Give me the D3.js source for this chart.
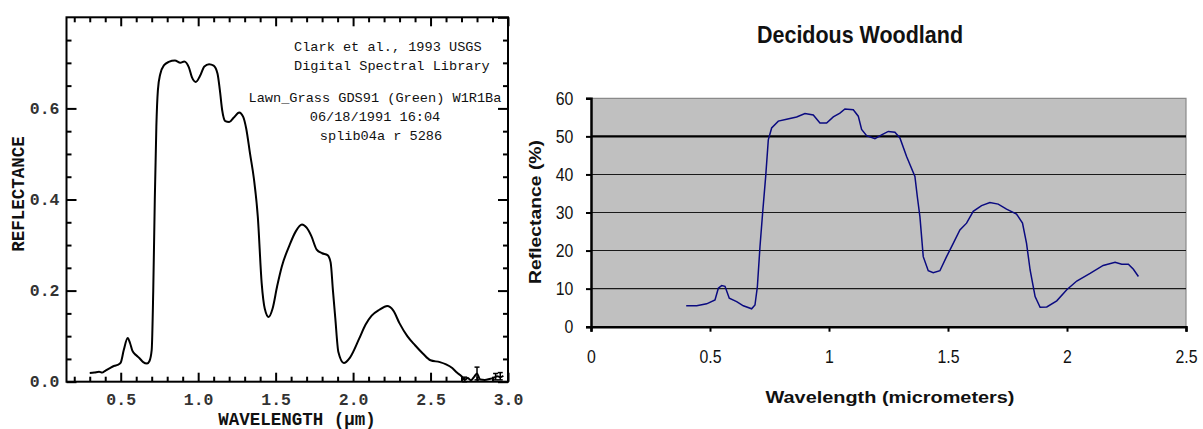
<!DOCTYPE html>
<html>
<head>
<meta charset="utf-8">
<script src="https://cdn.jsdelivr.net/npm/d3@7"></script>
<style>
  body { margin: 0; background: #fff; }
  svg { display: block; }
</style>
</head>
<body>
<div class="charts"></div>
<script>
// Lawn grass spectrum (left, USGS library plot)
let grassWl = [0.30, 0.33, 0.36, 0.38, 0.40, 0.43, 0.46, 0.48, 0.50, 0.52, 0.545, 0.56, 0.575, 0.60, 0.62, 0.645, 0.67, 0.685,
  0.70, 0.71, 0.72, 0.73, 0.74, 0.755, 0.78, 0.81, 0.85, 0.885, 0.91, 0.94, 0.96, 0.985, 1.01, 1.04, 1.07, 1.10, 1.125, 1.14,
  1.155, 1.175, 1.20, 1.23, 1.265, 1.29, 1.31, 1.335, 1.36, 1.385, 1.41, 1.43, 1.455, 1.48, 1.51, 1.54, 1.59, 1.63, 1.67,
  1.70, 1.73, 1.765, 1.80, 1.835, 1.855, 1.87, 1.885, 1.905, 1.94, 1.98, 2.04, 2.08, 2.12, 2.17, 2.22, 2.26, 2.30, 2.35,
  2.40, 2.45, 2.50, 2.56, 2.60, 2.64, 2.67, 2.70, 2.72, 2.74, 2.76, 2.78, 2.80, 2.82, 2.85, 2.88, 2.91, 2.93, 2.95, 2.97]
let grassRefl = [0.019, 0.020, 0.022, 0.020, 0.024, 0.030, 0.035, 0.037, 0.042, 0.070, 0.096, 0.085, 0.068, 0.058, 0.052, 0.043, 0.040, 0.045,
  0.070, 0.200, 0.400, 0.560, 0.640, 0.675, 0.695, 0.702, 0.705, 0.700, 0.703, 0.690, 0.668, 0.658, 0.670, 0.692, 0.697, 0.694, 0.676, 0.640,
  0.596, 0.572, 0.570, 0.580, 0.591, 0.582, 0.556, 0.500, 0.445, 0.362, 0.216, 0.160, 0.142, 0.160, 0.210, 0.253, 0.300, 0.330, 0.345,
  0.338, 0.320, 0.290, 0.282, 0.278, 0.262, 0.200, 0.140, 0.065, 0.041, 0.053, 0.095, 0.125, 0.145, 0.158, 0.166, 0.156, 0.128, 0.100,
  0.080, 0.062, 0.047, 0.043, 0.038, 0.030, 0.020, 0.012, 0.004, 0.008, 0.003, 0.010, 0.018, 0.005, 0.004, 0.006, 0.009, 0.012, 0.010, 0.013]
let grassErrWl = [2.72, 2.80, 2.92, 2.95]
let grassErrLo = [0.000, 0.004, 0.004, 0.004]
let grassErrHi = [0.010, 0.032, 0.018, 0.020]
let grassNotes = ["Clark et al., 1993 USGS", "Digital Spectral Library", "Lawn_Grass GDS91 (Green) W1R1Ba", "06/18/1991 16:04", "splib04a r 5286"]

// Deciduous woodland spectrum (right, spreadsheet plot)
let woodWl = [0.40, 0.444, 0.486, 0.521, 0.535, 0.549, 0.563, 0.581, 0.612, 0.64, 0.675, 0.689, 0.699, 0.71, 0.721, 0.734, 0.745,
  0.759, 0.787, 0.822, 0.864, 0.899, 0.934, 0.962, 0.99, 1.018, 1.046, 1.067, 1.102, 1.123, 1.137, 1.158, 1.193, 1.221, 1.249,
  1.277, 1.298, 1.326, 1.361, 1.371, 1.382, 1.396, 1.417, 1.438, 1.466, 1.494, 1.522, 1.55, 1.578, 1.606, 1.641, 1.676, 1.711,
  1.746, 1.788, 1.813, 1.83, 1.845, 1.866, 1.887, 1.915, 1.957, 1.999, 2.041, 2.097, 2.152, 2.202, 2.23, 2.258, 2.279, 2.30]
let woodRefl = [5.5, 5.5, 6.0, 7.0, 10.1, 10.8, 10.6, 7.5, 6.6, 5.5, 4.7, 5.7, 10.5, 21.0, 29.8, 39.5, 49.1,
  52.2, 54.0, 54.5, 55.1, 56.0, 55.6, 53.5, 53.5, 55.1, 56.1, 57.2, 57.0, 55.3, 51.8, 50.2, 49.4, 50.4, 51.3,
  51.1, 49.6, 44.7, 39.5, 34.2, 28.9, 18.4, 14.7, 14.2, 14.7, 18.4, 21.9, 25.4, 27.2, 30.3, 31.8, 32.6, 32.2,
  30.9, 29.6, 27.2, 21.9, 14.9, 7.9, 5.1, 5.2, 6.8, 9.7, 12.0, 14.0, 16.1, 16.9, 16.4, 16.4, 15.1, 13.2]
let woodXTicks = [0, 0.5, 1, 1.5, 2, 2.5]
let woodYTicks = [0, 10, 20, 30, 40, 50, 60]

let svg = d3.select('.charts')
  .append('svg')
  .attr('width', 1203)
  .attr('height', 429);

// ---------- left chart ----------
let mono = "'Liberation Mono', 'Courier New', monospace";
let x1 = d3.scaleLinear().domain([0.15, 3.0]).range([66.5, 508]);
let y1 = d3.scaleLinear().domain([0, 0.8]).range([381.7, 17.3]);

let left = svg.append('g');

let xMinor = d3.range(2, 31).map(d => d / 10).filter(d => Math.round(d * 10) % 5 != 0);
let xMajor = [0.5, 1.0, 1.5, 2.0, 2.5, 3.0];
let yMinor = d3.range(1, 16).map(d => d / 20).filter(d => Math.round(d * 20) % 4 != 0);
let yMajor = [0, 0.2, 0.4, 0.6, 0.8];

function frameAxes(g) {
  g.append('g').attr('transform', 'translate(0,381.7)')
    .call(d3.axisBottom(x1).tickValues(xMinor).tickSize(-5).tickFormat(''));
  g.append('g').attr('transform', 'translate(0,381.7)')
    .call(d3.axisBottom(x1).tickValues(xMajor).tickSize(-9).tickPadding(12).tickFormat(d3.format('.1f')));
  g.append('g').attr('transform', 'translate(0,17.3)')
    .call(d3.axisTop(x1).tickValues(xMinor).tickSize(-5).tickFormat(''));
  g.append('g').attr('transform', 'translate(0,17.3)')
    .call(d3.axisTop(x1).tickValues(xMajor).tickSize(-9).tickFormat(''));
  g.append('g').attr('transform', 'translate(66.5,0)')
    .call(d3.axisLeft(y1).tickValues(yMinor).tickSize(-5).tickFormat(''));
  g.append('g').attr('transform', 'translate(66.5,0)')
    .call(d3.axisLeft(y1).tickValues(yMajor.slice(0, 4)).tickSize(-10).tickPadding(7).tickFormat(d3.format('.1f')));
  g.append('g').attr('transform', 'translate(508,0)')
    .call(d3.axisRight(y1).tickValues(yMinor).tickSize(-5).tickFormat(''));
  g.append('g').attr('transform', 'translate(508,0)')
    .call(d3.axisRight(y1).tickValues(yMajor).tickSize(-10).tickFormat(''));
  g.selectAll('.domain').remove();
  g.selectAll('.tick line').attr('stroke', '#000').attr('stroke-width', 2);
  g.selectAll('.tick text')
    .style('font-family', mono)
    .style('font-size', '16.5px')
    .style('font-weight', 'bold')
    .attr('fill', '#333');
}
frameAxes(left);

left.append('rect')
  .attr('x', 66.5).attr('y', 17.3)
  .attr('width', 508 - 66.5).attr('height', 381.7 - 17.3)
  .attr('fill', 'none').attr('stroke', '#000').attr('stroke-width', 2);

let grass = grassWl.map((w, i) => [w, grassRefl[i]]);
let line1 = d3.line().x(d => x1(d[0])).y(d => y1(d[1])).curve(d3.curveMonotoneX);
left.append('path')
  .attr('fill', 'none')
  .attr('stroke', '#000')
  .attr('stroke-width', 2)
  .attr('d', line1(grass));

// little error bars near the end of the spectrum
grassErrWl.forEach((w, i) => {
  left.append('line')
    .attr('x1', x1(w)).attr('x2', x1(w))
    .attr('y1', y1(grassErrLo[i])).attr('y2', y1(grassErrHi[i]))
    .attr('stroke', '#000').attr('stroke-width', 1.5);
  [grassErrLo[i], grassErrHi[i]].forEach(v => {
    left.append('line')
      .attr('x1', x1(w) - 2.5).attr('x2', x1(w) + 2.5)
      .attr('y1', y1(v)).attr('y2', y1(v))
      .attr('stroke', '#000').attr('stroke-width', 1.5);
  });
});

// library annotation
let noteX = [294, 294, 375, 375, 381];
let noteAnchor = ['start', 'start', 'middle', 'middle', 'middle'];
let noteY = [51, 70, 102, 121, 140];
grassNotes.forEach((t, i) => {
  left.append('text')
    .attr('x', noteX[i]).attr('y', noteY[i])
    .attr('text-anchor', noteAnchor[i])
    .style('font-family', mono)
    .style('font-size', '13.6px')
    .attr('fill', '#111')
    .text(t);
});

left.append('text')
  .attr('transform', 'translate(24,194) rotate(-90)')
  .attr('text-anchor', 'middle')
  .style('font-family', mono)
  .style('font-size', '17.5px')
  .style('font-weight', 'bold')
  .attr('fill', '#111')
  .text('REFLECTANCE');

left.append('text')
  .attr('x', 297).attr('y', 425)
  .attr('text-anchor', 'middle')
  .style('font-family', mono)
  .style('font-size', '17.5px')
  .style('font-weight', 'bold')
  .attr('fill', '#111')
  .text('WAVELENGTH (\u00b5m)');

// ---------- right chart ----------
let sans = "'Liberation Sans', Arial, sans-serif";
let x2 = d3.scaleLinear().domain([0, 2.5]).range([591, 1186]);
let y2 = d3.scaleLinear().domain([0, 60]).range([326.7, 98.3]);

let right = svg.append('g');

right.append('rect')
  .attr('x', x2(0)).attr('y', y2(60))
  .attr('width', x2(2.5) - x2(0)).attr('height', y2(0) - y2(60))
  .attr('fill', '#c0c0c0');

// plot area border (top/right grey)
right.append('path')
  .attr('d', `M${x2(0)},${y2(60)}H${x2(2.5)}V${y2(0)}`)
  .attr('fill', 'none').attr('stroke', '#8a8a8a').attr('stroke-width', 1.2);

// gridlines
right.selectAll('.grid')
  .data(woodYTicks.slice(1, 6))
  .join('line')
  .attr('x1', x2(0)).attr('x2', x2(2.5))
  .attr('y1', d => y2(d)).attr('y2', d => y2(d))
  .attr('stroke', d => d == 50 ? '#000' : '#1a1a1a')
  .attr('stroke-width', d => d == 50 ? 2.4 : 1.1);

let line2 = d3.line().x(d => x2(d[0])).y(d => y2(d[1]));
let wood = woodWl.map((w, i) => [w, woodRefl[i]]);
right.append('path')
  .attr('fill', 'none')
  .attr('stroke', '#0a0a80')
  .attr('stroke-width', 1.5)
  .attr('d', line2(wood));

let xAx = right.append('g').attr('transform', `translate(0,${y2(0)})`)
  .call(d3.axisBottom(x2).tickValues(woodXTicks).tickSize(5).tickPadding(19).tickFormat(d3.format('')));
let yAx = right.append('g').attr('transform', `translate(${x2(0)},0)`)
  .call(d3.axisLeft(y2).tickValues(woodYTicks).tickSize(5).tickPadding(13).tickFormat(d3.format('')));
[xAx, yAx].forEach(a => {
  a.select('.domain').attr('stroke', '#000').attr('stroke-width', 2.5);
  a.selectAll('.tick line').attr('stroke', '#000').attr('stroke-width', 2);
  a.selectAll('.tick text')
    .style('font-family', sans)
    .style('font-size', '18px')
    .attr('fill', '#111');
});
xAx.selectAll('.tick text').attr('transform', 'scale(0.88,1)');
yAx.selectAll('.tick text').attr('x', -20).attr('transform', 'scale(0.88,1)');

right.append('text')
  .attr('x', 860).attr('y', 42.5)
  .attr('text-anchor', 'middle')
  .attr('textLength', 206).attr('lengthAdjust', 'spacingAndGlyphs')
  .style('font-family', sans)
  .style('font-size', '24px')
  .style('font-weight', 'bold')
  .attr('fill', '#111')
  .text('Decidous Woodland');

right.append('text')
  .attr('transform', 'translate(541,212) rotate(-90)')
  .attr('text-anchor', 'middle')
  .attr('textLength', 144).attr('lengthAdjust', 'spacingAndGlyphs')
  .style('font-family', sans)
  .style('font-size', '17px')
  .style('font-weight', 'bold')
  .attr('fill', '#111')
  .text('Reflectance (%)');

right.append('text')
  .attr('x', 890).attr('y', 403)
  .attr('text-anchor', 'middle')
  .attr('textLength', 249).attr('lengthAdjust', 'spacingAndGlyphs')
  .style('font-family', sans)
  .style('font-size', '17px')
  .style('font-weight', 'bold')
  .attr('fill', '#111')
  .text('Wavelength (micrometers)');
</script>
</body>
</html>
